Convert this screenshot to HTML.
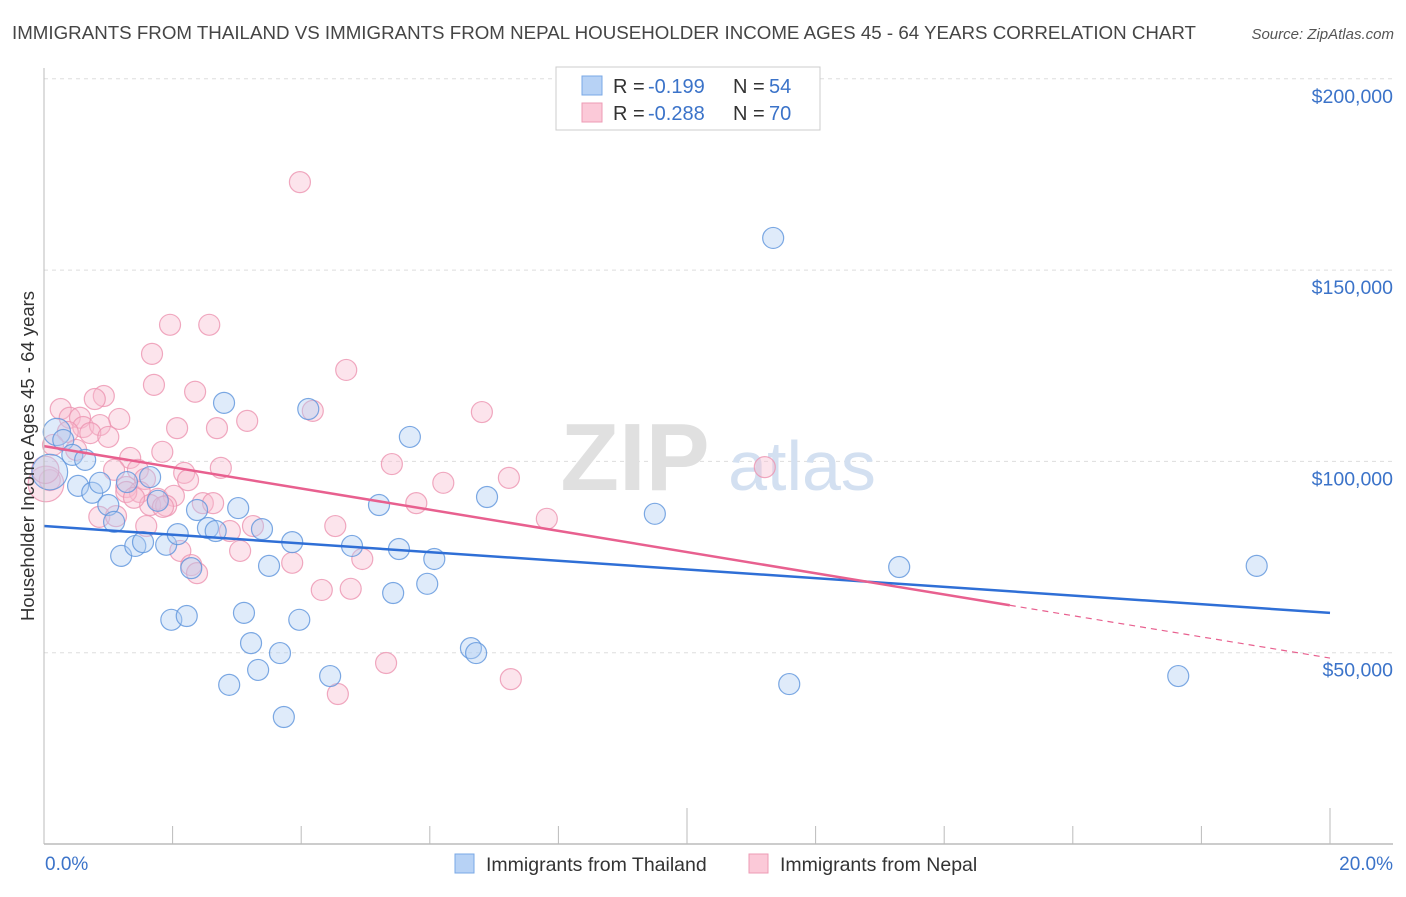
<!DOCTYPE html>
<html><head><meta charset="utf-8"><style>
body{margin:0;background:#fff;font-family:"Liberation Sans",sans-serif}
svg text{font-family:"Liberation Sans",sans-serif}
</style></head><body>
<svg id="chart" width="1406" height="892" viewBox="0 0 1406 892" xmlns="http://www.w3.org/2000/svg">
<text x="12" y="39" font-size="18" textLength="1184" lengthAdjust="spacingAndGlyphs" fill="#454545">IMMIGRANTS FROM THAILAND VS IMMIGRANTS FROM NEPAL HOUSEHOLDER INCOME AGES 45 - 64 YEARS CORRELATION CHART</text>
<text x="1394" y="39" font-size="15" fill="#555" text-anchor="end" font-style="italic">Source: ZipAtlas.com</text>
<g id="grid"></g>
<g><text x="635" y="490" font-size="96" fill="#e0e0e0" text-anchor="middle" font-family="Liberation Serif" font-weight="bold">ZIP</text><text x="802" y="490" font-size="70" fill="#d3e0f1" text-anchor="middle">atlas</text></g>
<g id="points"></g>
<g id="trends"></g>
<g id="axes"></g>
<text transform="translate(34,456) rotate(-90)" font-size="18.5" fill="#333" text-anchor="middle">Householder Income Ages 45 - 64 years</text>
<g>
<rect x="556" y="67" width="264" height="63" fill="#fff" stroke="#ccc"/>
<rect x="582" y="76" width="20" height="19" fill="#b7d2f5" stroke="#7aa8e6"/>
<text x="613" y="93" font-size="20" fill="#333">R =</text><text x="648" y="93" font-size="20" fill="#3b73c9">-0.199</text>
<text x="733" y="93" font-size="20" fill="#333">N =</text><text x="769" y="93" font-size="20" fill="#3b73c9">54</text>
<rect x="582" y="103" width="20" height="19" fill="#fbc9d8" stroke="#ee9bb5"/>
<text x="613" y="120" font-size="20" fill="#333">R =</text><text x="648" y="120" font-size="20" fill="#3b73c9">-0.288</text>
<text x="733" y="120" font-size="20" fill="#333">N =</text><text x="769" y="120" font-size="20" fill="#3b73c9">70</text>
</g>
<g>
<rect x="455" y="854" width="19" height="19" fill="#b7d2f5" stroke="#7aa8e6"/>
<text x="486" y="871" font-size="19.5" fill="#333">Immigrants from Thailand</text>
<rect x="749" y="854" width="19" height="19" fill="#fbc9d8" stroke="#ee9bb5"/>
<text x="780" y="871" font-size="19.5" fill="#333">Immigrants from Nepal</text>
</g>
</svg>
<script>
const yTicks=[50000,100000,150000,200000];
const yTickLabels=["$50,000","$100,000","$150,000","$200,000"];
const xTickLabels=["0.0%","20.0%"];
const thaiX=[0.20,0.30,0.44,0.64,0.09,0.53,0.75,0.87,1.00,1.09,1.20,1.29,1.42,1.54,1.65,1.77,1.90,1.98,2.08,2.22,2.29,2.38,2.55,2.67,2.80,2.88,3.02,3.11,3.22,3.33,3.39,3.50,3.67,3.73,3.86,3.97,4.11,4.45,4.79,5.21,5.43,5.52,5.69,5.96,6.07,6.64,6.72,6.89,9.50,11.34,11.59,13.30,17.64,18.86];
const thaiY=[107.7,105.6,101.7,100.4,97.2,93.6,91.8,94.4,88.6,84.2,75.3,94.6,77.9,78.9,95.9,89.7,78.2,58.6,81.0,59.6,72.1,87.3,82.6,81.8,115.3,41.6,87.8,60.4,52.5,45.5,82.3,72.7,49.9,33.2,78.9,58.6,113.7,43.9,77.9,88.6,65.6,77.1,106.4,68.0,74.5,51.2,49.9,90.7,86.3,158.4,41.8,72.4,43.9,72.7];
const thaiSize=[1.3,1,1,1,1.7,1,1,1,1,1,1,1,1,1,1,1,1,1,1,1,1,1,1,1,1,1,1,1,1,1,1,1,1,1,1,1,1,1,1,1,1,1,1,1,1,1,1,1,1,1,1,1,1,1];
const nepalX=[3.98,1.96,2.57,1.68,4.70,1.71,2.35,0.93,0.79,6.81,0.26,0.40,0.56,4.18,1.17,3.16,0.61,0.87,2.07,2.69,0.72,0.37,1.00,0.14,1.84,1.34,5.41,11.21,2.75,2.18,1.09,1.46,0.09,1.28,7.23,6.21,2.24,1.57,1.49,1.77,2.02,1.28,0.86,1.12,1.65,1.90,2.47,2.63,5.79,1.85,7.82,1.59,2.89,3.25,4.53,2.12,3.05,3.86,4.95,2.29,2.38,4.32,4.77,5.32,7.26,4.57,0.03,0.02,0.50,1.40];
const nepalY=[173.0,135.7,135.7,128.1,123.9,120.0,118.2,117.1,116.3,112.9,113.7,111.4,111.4,113.2,111.1,110.6,109.0,109.5,108.7,108.7,107.4,107.7,106.4,104.3,102.5,100.9,99.3,98.5,98.3,97.0,97.8,97.8,95.1,93.3,95.7,94.4,95.1,95.4,92.0,90.2,91.0,92.0,85.5,85.7,88.6,88.4,89.1,89.1,89.1,88.1,85.0,83.1,81.8,83.1,83.1,76.6,76.6,73.5,74.5,72.9,70.8,66.4,66.7,47.3,43.1,39.2,94.1,97.8,103.0,90.5];
const nepalSize=[1,1,1,1,1,1,1,1,1,1,1,1,1,1,1,1,1,1,1,1,1,1,1,1,1,1,1,1,1,1,1,1,1,1,1,1,1,1,1,1,1,1,1,1,1,1,1,1,1,1,1,1,1,1,1,1,1,1,1,1,1,1,1,1,1,1,1.7,1.3,1,1];
const thaiTrend=[83.1,60.4];
const nepalTrend=[104.0,48.6];
const nepalSolidEnd=15.02;

const NS="http://www.w3.org/2000/svg";
const X0=44,X1=1330,Y0=844;
function xs(p){return X0+(X1-X0)*p/20;}
function ys(k){return Y0-k*191.3/50;}
function mk(tag,attrs,parent){const e=document.createElementNS(NS,tag);for(const k in attrs)e.setAttribute(k,attrs[k]);parent.appendChild(e);return e;}
const grid=document.getElementById('grid'),axes=document.getElementById('axes'),pts=document.getElementById('points'),tr=document.getElementById('trends');
yTicks.forEach((v,i)=>{
  const y=ys(v/1000);
  const l=mk('line',{x1:X0,x2:1393,y1:y,y2:y,stroke:'#dddddd','stroke-dasharray':'4,4'},grid);
  
  
  const t=mk('text',{x:1393,y:y+24,'font-size':19.5,fill:'#3b73c9','text-anchor':'end'},axes);
  t.textContent=yTickLabels[i];
  
  
});
const ya=mk('line',{x1:X0,x2:X0,y1:68,y2:Y0,stroke:'#bbb'},axes);


const xa=mk('line',{x1:X0,x2:1393,y1:Y0,y2:Y0,stroke:'#bbb','stroke-width':1.5},axes);


for(let i=0;i<=10;i++){
  const x=xs(i*2);const top=(i==5||i==10)?808:826;
  const t=mk('line',{x1:x,x2:x,y1:top,y2:Y0,stroke:'#bbb'},axes);
  
  
}
xTickLabels.forEach((s,i)=>{
  const t=mk('text',{x:i==0?45:1393,y:870,'font-size':19,fill:'#3b73c9','text-anchor':i==0?'start':'end'},axes);
  t.textContent=s;
  
  
});
function drawSeries(X,Y,S,fill,stroke,name){
  X.forEach((x,i)=>{
    const c=mk('circle',{cx:xs(x),cy:ys(Y[i]),r:10.5*S[i],fill:fill,'fill-opacity':0.4,stroke:stroke,'stroke-opacity':0.8,'stroke-width':1.2},pts);
    
    
  });
}
drawSeries(nepalX,nepalY,nepalSize,'#f8bcd0','#ec93b0','nepal-point');
drawSeries(thaiX,thaiY,thaiSize,'#afcdf3','#5d93dc','thailand-point');
const bl=mk('line',{x1:xs(0),y1:ys(thaiTrend[0]),x2:xs(20),y2:ys(thaiTrend[1]),stroke:'#2f6fd6','stroke-width':2.5},tr);


const pAt=p=>nepalTrend[0]+(nepalTrend[1]-nepalTrend[0])*p/20;
const pl=mk('line',{x1:xs(0),y1:ys(pAt(0)),x2:xs(nepalSolidEnd),y2:ys(pAt(nepalSolidEnd)),stroke:'#e8608f','stroke-width':2.5},tr);


const pd=mk('line',{x1:xs(nepalSolidEnd),y1:ys(pAt(nepalSolidEnd)),x2:xs(20),y2:ys(pAt(20)),stroke:'#e8608f','stroke-width':1.2,'stroke-dasharray':'6,5'},tr);


</script>
</body></html>
